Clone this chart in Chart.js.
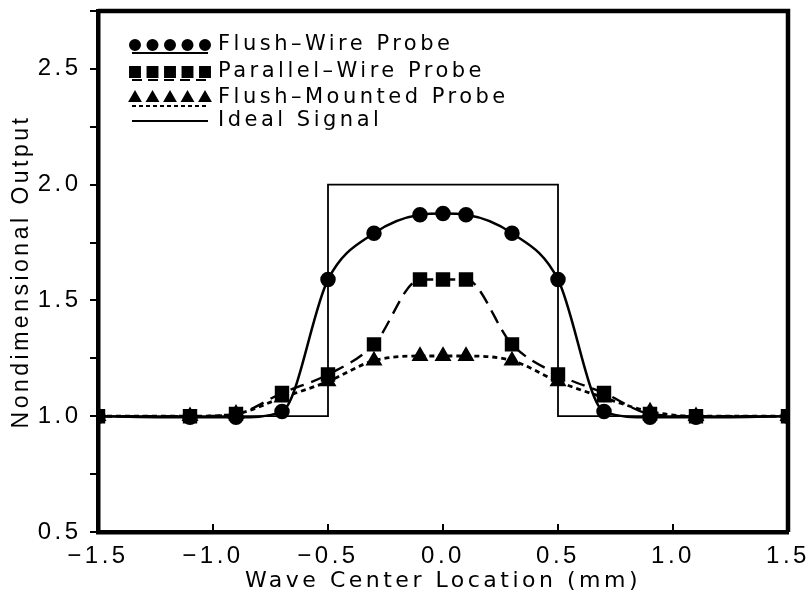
<!DOCTYPE html>
<html>
<head>
<meta charset="utf-8">
<script src="https://cdn.jsdelivr.net/npm/chart.js@4/dist/chart.umd.min.js"></script>
<style>
  html, body { margin: 0; padding: 0; background: #fff; overflow: hidden; }
  #wrap { width: 806px; height: 598px; overflow: hidden; }
  canvas { display: block; }
</style>
</head>
<body>
<div id="wrap"><canvas id="probeChart" width="806" height="598"></canvas></div>
<script>
const xPos = [-1.5, -1.1, -0.9, -0.7, -0.5, -0.3, -0.1, 0.0, 0.1, 0.3, 0.5, 0.7, 0.9, 1.1, 1.5];
const flushWire = [1.0, 0.995, 0.995, 1.02, 1.59, 1.79, 1.87, 1.875, 1.87, 1.79, 1.59, 1.02, 0.995, 0.995, 1.0];
const parallelWire = [1.0, 1.0, 1.01, 1.1, 1.18, 1.31, 1.59, 1.59, 1.59, 1.31, 1.18, 1.1, 1.01, 1.0, 1.0];
const flushMounted = [1.0, 1.0, 1.01, 1.08, 1.15, 1.24, 1.26, 1.26, 1.26, 1.24, 1.15, 1.08, 1.02, 1.0, 1.0];
const idealX = [-1.5, -0.5, -0.5, 0.5, 0.5, 1.5];
const idealY = [1.0, 1.0, 2.0, 2.0, 1.0, 1.0];
const legendNames = ["Flush\u2013Wire Probe", "Parallel\u2013Wire Probe", "Flush\u2013Mounted Probe", "Ideal Signal"];

const pts = (xs, ys) => xs.map((x, i) => ({ x: x, y: ys[i] }));
const FONT = "'DejaVu Sans', sans-serif";
const TICKFONT = "'Liberation Sans', Arial, sans-serif";

// the old plotter text is widely spaced
const spacingPlugin = {
    id: "spacing",
    beforeUpdate(chart) { chart.ctx.letterSpacing = "3.5px"; },
    beforeDraw(chart) { chart.ctx.letterSpacing = "3.5px"; },
};

// legend drawn by hand: five markers over a line sample, like the original plot
const legendPlugin = {
    id: "probeLegend",
    afterDraw(chart) {
        const ctx = chart.ctx;
        const x0 = 132, x1 = 208;
        const rows = [45, 72, 98, 121];
        const styles = ["circle", "rect", "triangle", null];
        const radii = [5, 7, 6, 0];
        const dashes = [[], [10, 6], [4, 3], []];
        ctx.save();
        rows.forEach((y, r) => {
            ctx.strokeStyle = "#000";
            ctx.fillStyle = "#000";
            ctx.lineWidth = 2;
            ctx.setLineDash(dashes[r]);
            ctx.beginPath();
            const ly = styles[r] ? y + 8 : y;
            ctx.moveTo(x0, ly);
            ctx.lineTo(x1, ly);
            ctx.stroke();
            ctx.setLineDash([]);
            if (styles[r]) {
                for (let k = 0; k < 5; k++) {
                    const cx = 135 + k * 17.5;
                    Chart.helpers.drawPoint(ctx, { pointStyle: styles[r], radius: radii[r], borderWidth: 1 }, cx, y);
                }
            }
            ctx.font = "21px " + FONT;
            ctx.textBaseline = "middle";
            ctx.fillText(legendNames[r], 218, y);
        });
        ctx.restore();
    }
};

const framePlugin = {
    id: "frame",
    afterDraw(chart) {
        const ctx = chart.ctx;
        const a = chart.chartArea;
        const xs = chart.scales.x;
        ctx.save();
        ctx.setLineDash([]);
        ctx.strokeStyle = "#000";
        ctx.lineWidth = 2;
        // x ticks point into the plot
        xs.ticks.forEach((t) => {
            const px = xs.getPixelForValue(t.value);
            ctx.beginPath();
            ctx.moveTo(px, a.bottom);
            ctx.lineTo(px, a.bottom - 8);
            ctx.stroke();
        });
        ctx.lineWidth = 4.5;
        ctx.beginPath();
        ctx.moveTo(a.left, a.top);
        ctx.lineTo(a.right, a.top);
        ctx.lineTo(a.right, a.bottom);
        ctx.stroke();
        ctx.restore();
    }
};

new Chart(document.getElementById("probeChart"), {
    type: "scatter",
    data: {
        datasets: [
            {
                label: "Ideal Signal",
                data: pts(idealX, idealY),
                showLine: true,
                borderColor: "#000",
                borderWidth: 1.8,
                pointRadius: 0,
                tension: 0,
            },
            {
                label: legendNames[2],
                data: pts(xPos, flushMounted),
                showLine: true,
                borderColor: "#000",
                backgroundColor: "#000",
                borderWidth: 2.8,
                borderDash: [5, 4],
                cubicInterpolationMode: "monotone",
                pointStyle: "triangle",
                pointRadius: 7,
            },
            {
                label: legendNames[1],
                data: pts(xPos, parallelWire),
                showLine: true,
                borderColor: "#000",
                backgroundColor: "#000",
                borderWidth: 2.4,
                borderDash: [14, 8],
                cubicInterpolationMode: "monotone",
                pointStyle: "rect",
                pointRadius: 8.5,
            },
            {
                label: legendNames[0],
                data: pts(xPos, flushWire),
                showLine: true,
                borderColor: "#000",
                backgroundColor: "#000",
                borderWidth: 2.5,
                cubicInterpolationMode: "monotone",
                pointStyle: "circle",
                pointRadius: 6.5,
            },
        ],
    },
    options: {
        responsive: false,
        animation: false,
        layout: { padding: { top: 8, right: 18, left: 10, bottom: 0 } },
        plugins: {
            legend: { display: false },
            tooltip: { enabled: false },
        },
        scales: {
            x: {
                type: "linear",
                min: -1.5,
                max: 1.5,
                afterFit: (s) => { s.paddingLeft = 0; s.paddingRight = 0; s.height = 66; },
                ticks: {
                    stepSize: 0.5,
                    color: "#000",
                    font: { family: TICKFONT, size: 24, lineHeight: 1.0 },
                    padding: 12,
                    callback: (v) => (v < 0 ? "\u2212" : "") + Math.abs(v).toFixed(1),
                },
                grid: { drawOnChartArea: false, drawTicks: false, color: "#000" },
                border: { color: "#000", width: 4.5 },
                title: {
                    display: true,
                    text: "Wave Center Location (mm)",
                    color: "#000",
                    font: { family: FONT, size: 22, lineHeight: 1.0 },
                    padding: { top: 0, bottom: 6 },
                },
            },
            y: {
                min: 0.5,
                max: 2.75,
                afterFit: (s) => { s.paddingTop = 0; s.paddingBottom = 0; s.width = 88; },
                ticks: {
                    stepSize: 0.25,
                    color: "#000",
                    font: { family: TICKFONT, size: 24, lineHeight: 1.0 },
                    padding: 8.5,
                    callback: (v) => (Math.abs(v * 2 - Math.round(v * 2)) < 1e-6 && v < 2.7 ? v.toFixed(1) : ""),
                },
                grid: { drawOnChartArea: false, tickLength: 8, color: "#000", lineWidth: 2 },
                border: { color: "#000", width: 4.5 },
                title: {
                    display: true,
                    text: "Nondimensional Output",
                    color: "#000",
                    font: { family: TICKFONT, size: 23, lineHeight: 1.0 },
                    padding: { top: 0, bottom: 0 },
                },
            },
        },
    },
    plugins: [spacingPlugin, legendPlugin, framePlugin],
});
</script>
</body>
</html>
